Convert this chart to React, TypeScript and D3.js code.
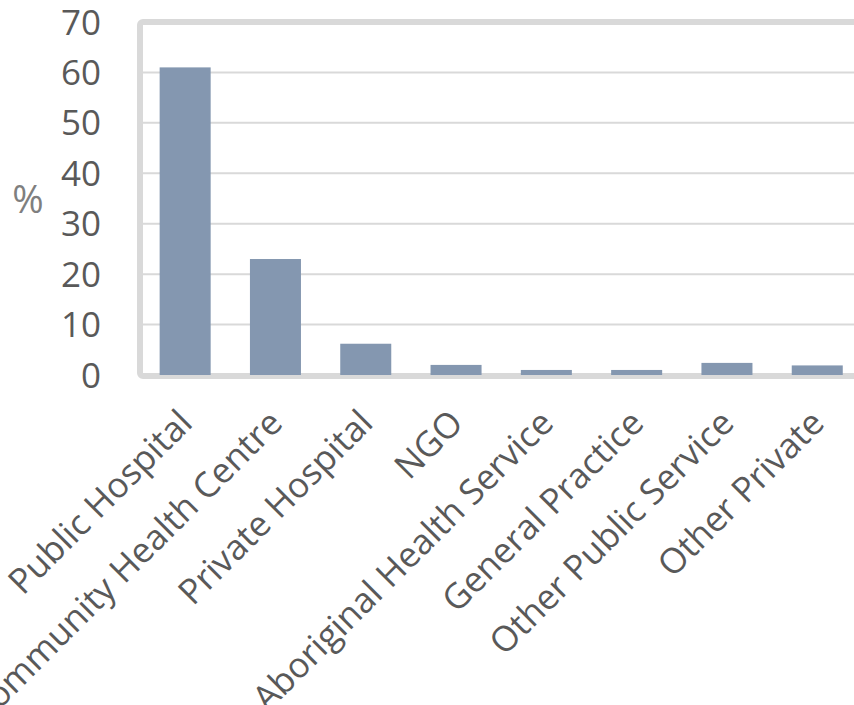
import React from "react";
import * as d3 from "d3";

const categories = [
  "Public Hospital",
  "Community Health Centre",
  "Private Hospital",
  "NGO",
  "Aboriginal Health Service",
  "General Practice",
  "Other Public Service",
  "Other Private",
];
const values = [61, 23, 6.2, 2, 1, 1, 2.4, 1.9];
const yTicks = [0, 10, 20, 30, 40, 50, 60, 70];

export default function App() {
  const W = 854, H = 705;
  const left = 140, right = 140 + 8 * 90.3;
  const top = 22, bottom = 375;
  const x = d3.scaleBand<string>().domain(categories).range([left, right]).paddingInner(0.435).paddingOuter(0.2175);
  const y = d3.scaleLinear().domain([0, 70]).range([bottom, top]);
  const font = "'Open Sans', sans-serif";
  return (
    <svg width={W} height={H} style={{ position: "absolute", left: 0, top: 0 }}>
      <rect x={0} y={0} width={W} height={H} fill="#fff" />
      {yTicks.slice(1, -1).map((t) => (
        <line key={t} x1={left} x2={W} y1={y(t)} y2={y(t)} stroke="#d9d9d9" strokeWidth={2} />
      ))}
      <rect x={left} y={top} width={right - left} height={bottom - top + 1} fill="none" stroke="#d9d9d9" strokeWidth={6} rx={3} />
      {categories.map((c, i) => (
        <rect key={c} x={x(c)} y={y(values[i])} width={x.bandwidth()} height={y(0) - y(values[i])} fill="#8497b0" />
      ))}
      {yTicks.map((t) => (
        <text key={t} x={101} y={y(t)} dy="0.36em" textAnchor="end" fontFamily={font} fontSize={35} fill="#595959">
          {t}
        </text>
      ))}
      <text x={28} y={199} dy="0.36em" textAnchor="middle" fontFamily={font} fontSize={38} fill="#7f7f7f">%</text>
      {categories.map((c) => {
        const cx = (x(c) as number) + x.bandwidth() / 2 + 9;
        const cy = 425;
        return (
          <text key={c} x={cx} y={cy} textAnchor="end" transform={`rotate(-45 ${cx} ${cy})`} fontFamily={font} fontSize={35} fill="#595959">
            {c}
          </text>
        );
      })}
    </svg>
  );
}
